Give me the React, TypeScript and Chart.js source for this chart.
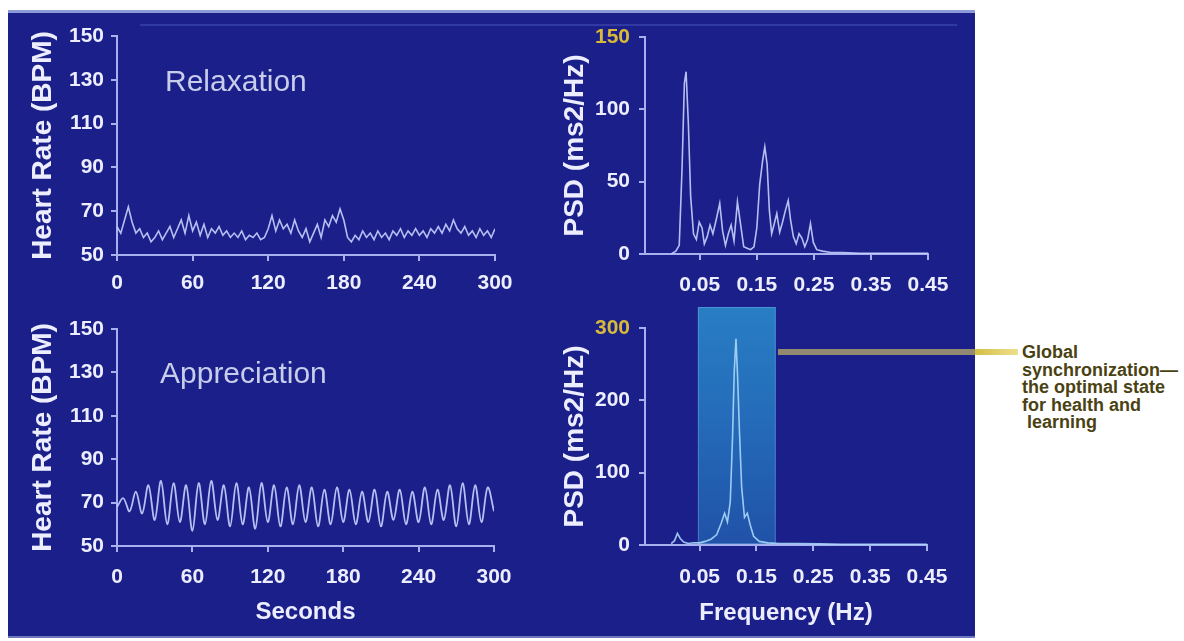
import React, { useEffect, useRef } from "react";
import { Chart, registerables } from "chart.js";

Chart.register(...registerables);

// ---------------- data ----------------
const HR_TICKS_X = [0, 60, 120, 180, 240, 300];
const HR_TICKS_Y = [50, 70, 90, 110, 130, 150];
const PSD_TICKS_X = [0.05, 0.15, 0.25, 0.35, 0.45];
const PSD_RELAX_TICKS_Y = [0, 50, 100, 150];
const PSD_APPR_TICKS_Y = [0, 100, 200, 300];

// Relaxation heart rate (BPM), one sample every 3 s, 0..300 s
const RELAX_HR_STEP_S = 3;
const RELAX_HR = [
  63, 60, 66, 72, 65, 60, 62, 58, 60, 56,
  58, 61, 57, 60, 63, 58, 62, 66, 60, 68,
  61, 65, 59, 64, 58, 62, 60, 63, 59, 61,
  58, 60, 58, 61, 57, 59, 58, 60, 57, 58,
  62, 68, 61, 66, 62, 64, 60, 66, 61, 58,
  62, 56, 60, 64, 58, 66, 63, 68, 65, 71,
  66, 58, 56, 59, 57, 61, 58, 60, 57, 61,
  58, 60, 57, 61, 59, 62, 58, 61, 59, 62,
  59, 61, 58, 62, 60, 63, 60, 64, 61, 66,
  62, 60, 63, 59, 61, 58, 62, 59, 61, 58,
  62,
];

// Appreciation heart rate (BPM), one sample every 5 s, 0..300 s
const APPR_HR_STEP_S = 5;
const APPR_HR = [
  68, 72, 66, 75, 65, 78, 62, 80, 60, 79,
  61, 78, 57, 79, 60, 80, 62, 78, 59, 79,
  60, 77, 58, 79, 61, 78, 59, 77, 60, 78,
  61, 77, 59, 76, 60, 77, 61, 76, 60, 75,
  61, 76, 59, 75, 62, 76, 60, 75, 61, 77,
  60, 76, 62, 78, 59, 79, 60, 78, 61, 77,
  66,
];

// Relaxation power spectrum
const RELAX_PSD_FREQ = [
  0, 0.008, 0.014, 0.019, 0.023, 0.026, 0.030, 0.034, 0.039, 0.044,
  0.049, 0.054, 0.058, 0.063, 0.068, 0.073, 0.079, 0.085, 0.090, 0.095,
  0.100, 0.105, 0.110, 0.116, 0.121, 0.127, 0.133, 0.139, 0.145, 0.150,
  0.155, 0.160, 0.164, 0.168, 0.172, 0.176, 0.180, 0.185, 0.190, 0.195,
  0.200, 0.205, 0.209, 0.214, 0.219, 0.224, 0.229, 0.234, 0.239, 0.244,
  0.249, 0.255, 0.265, 0.280, 0.300, 0.330, 0.360, 0.390, 0.420, 0.450,
];
const RELAX_PSD = [
  0, 2, 6, 60, 118, 126, 90, 40, 14, 10,
  22, 18, 7, 12, 20, 14, 24, 35, 16, 6,
  14, 20, 9, 36, 22, 5, 4, 3, 5, 18,
  48, 64, 74, 62, 30, 14, 20, 28, 15, 22,
  30, 37, 24, 12, 7, 14, 11, 5, 10, 21,
  8, 3, 2, 1, 1, 0.5, 0.5, 0.5, 0.5, 0.5,
];

// Appreciation power spectrum
const APPR_PSD_FREQ = [
  0, 0.006, 0.011, 0.016, 0.022, 0.030, 0.040, 0.050, 0.060, 0.070,
  0.080, 0.088, 0.094, 0.099, 0.104, 0.108, 0.111, 0.114, 0.117, 0.120,
  0.124, 0.129, 0.134, 0.139, 0.145, 0.155, 0.170, 0.190, 0.220, 0.260,
  0.300, 0.350, 0.400, 0.450,
];
const APPR_PSD = [
  2, 6, 16, 9, 4, 2, 3, 3, 5, 8,
  14, 30, 44, 32, 60, 150, 240, 285, 230, 160,
  80, 38, 44, 28, 12, 5, 3, 2, 2, 1.5,
  1, 1, 1, 1,
];

// highlighted coherence band (Hz)
const COHERENCE_BAND = [0.047, 0.184];

// ---------------- styles ----------------
const FONT = "'Liberation Sans', Arial, Helvetica, sans-serif";
const PANEL_BG = "rgb(27,31,137)";
const TICK_COLOR = "#eceeff";
const GOLD = "#d9b93a";
const AXIS_COLOR = "#a8b1f0";
const TRACE_COLOR = "rgba(200,208,255,0.9)";

type Box = { x: number; y: number; w: number; h: number };
type Area = { l: number; t: number; r: number; b: number };

type Spec = {
  box: Box;
  area: Area;
  points: { x: number; y: number }[];
  xMin: number;
  xMax: number;
  yMin: number;
  yMax: number;
  xTicks: number[];
  yTicks: number[];
  xFmt: (v: number) => string;
  xPad: number;
  yPad: number;
  xTitle?: string;
  xTitlePad?: number;
  yTitle: string;
  gold?: number;
  tension: number;
  lineColor: string;
  lineWidth: number;
  plugins?: any[];
};

function buildConfig(s: Spec): any {
  const yWidth = s.area.l - s.box.x;
  const xHeight = s.box.y + s.box.h - s.area.b;
  const tickFont = { family: FONT, size: 21, weight: "bold" as const };
  const titleFont = { family: FONT, size: 24, weight: "bold" as const };
  return {
    type: "line",
    data: {
      datasets: [
        {
          data: s.points,
          borderColor: s.lineColor,
          borderWidth: s.lineWidth,
          pointRadius: 0,
          tension: s.tension,
          fill: false,
        },
      ],
    },
    options: {
      animation: false,
      responsive: false,
      events: [],
      layout: {
        padding: {
          left: 0,
          top: s.area.t - s.box.y,
          right: s.box.x + s.box.w - s.area.r,
          bottom: 0,
        },
      },
      plugins: { legend: { display: false }, tooltip: { enabled: false } },
      scales: {
        x: {
          type: "linear",
          min: s.xMin,
          max: s.xMax,
          afterBuildTicks: (sc: any) => {
            sc.ticks = s.xTicks.map((v) => ({ value: v }));
          },
          afterFit: (sc: any) => {
            sc.height = xHeight;
          },
          grid: {
            drawOnChartArea: false,
            drawTicks: true,
            tickLength: 6,
            color: AXIS_COLOR,
            lineWidth: 2,
          },
          border: { display: true, color: AXIS_COLOR, width: 2 },
          ticks: {
            color: TICK_COLOR,
            font: tickFont,
            padding: s.xPad,
            maxRotation: 0,
            autoSkip: false,
            callback: (v: any) => s.xFmt(Number(v)),
          },
          title: s.xTitle
            ? {
                display: true,
                text: s.xTitle,
                color: TICK_COLOR,
                font: titleFont,
                padding: { top: 0, bottom: s.xTitlePad ?? 10 },
              }
            : { display: false },
        },
        y: {
          type: "linear",
          min: s.yMin,
          max: s.yMax,
          afterBuildTicks: (sc: any) => {
            sc.ticks = s.yTicks.map((v) => ({ value: v }));
          },
          afterFit: (sc: any) => {
            sc.width = yWidth;
          },
          grid: {
            drawOnChartArea: false,
            drawTicks: true,
            tickLength: 6,
            color: AXIS_COLOR,
            lineWidth: 2,
          },
          border: { display: true, color: AXIS_COLOR, width: 2 },
          ticks: {
            color: (ctx: any) =>
              ctx.tick && s.gold !== undefined && ctx.tick.value === s.gold ? GOLD : TICK_COLOR,
            font: tickFont,
            padding: s.yPad,
            autoSkip: false,
            callback: (v: any) => String(v),
          },
          title: {
            display: true,
            text: s.yTitle,
            color: TICK_COLOR,
            font: { family: FONT, size: 28, weight: "bold" as const },
            padding: { top: 18, bottom: 0 },
          },
        },
      },
    },
    plugins: s.plugins || [],
  };
}

const bandPlugin = {
  id: "coherenceBand",
  beforeDatasetsDraw(chart: any) {
    const { ctx, chartArea, scales } = chart;
    const x = scales.x;
    const x0 = x.getPixelForValue(COHERENCE_BAND[0]);
    const x1 = x.getPixelForValue(COHERENCE_BAND[1]);
    const top = chartArea.top - 21;
    const bottom = chartArea.bottom - 1;
    const g = ctx.createLinearGradient(0, top, 0, bottom);
    g.addColorStop(0, "rgb(40,126,196)");
    g.addColorStop(0.5, "rgb(36,106,184)");
    g.addColorStop(1, "rgb(32,82,168)");
    ctx.save();
    ctx.fillStyle = g;
    ctx.fillRect(x0, top, x1 - x0, bottom - top);
    ctx.strokeStyle = "rgba(130,180,235,0.4)";
    ctx.lineWidth = 1;
    ctx.strokeRect(x0 + 0.5, top + 0.5, x1 - x0 - 1, bottom - top - 1);
    ctx.restore();
  },
};

function Panel({ spec }: { spec: Spec }) {
  const ref = useRef<HTMLCanvasElement | null>(null);
  useEffect(() => {
    if (!ref.current) return;
    const chart = new Chart(ref.current, buildConfig(spec));
    return () => chart.destroy();
  }, []);
  return (
    <canvas
      ref={ref}
      width={spec.box.w}
      height={spec.box.h}
      style={{
        position: "absolute",
        left: spec.box.x,
        top: spec.box.y,
        width: spec.box.w,
        height: spec.box.h,
      }}
    />
  );
}

const hrFmt = (v: number) => String(Math.round(v));
const psdFmt = (v: number) => v.toFixed(2);

const SPECS: Spec[] = [
  {
    box: { x: 8, y: 10, w: 540, h: 300 },
    area: { l: 117, t: 36, r: 495, b: 255 },
    points: RELAX_HR.map((v, i) => ({ x: i * RELAX_HR_STEP_S, y: v })),
    xMin: 0, xMax: 300, yMin: 50, yMax: 150,
    xTicks: HR_TICKS_X, yTicks: HR_TICKS_Y,
    xFmt: hrFmt, xPad: 10, yPad: 7,
    yTitle: "Heart Rate (BPM)",
    tension: 0, lineColor: TRACE_COLOR, lineWidth: 1.6,
  },
  {
    box: { x: 540, y: 10, w: 430, h: 300 },
    area: { l: 645, t: 37, r: 928, b: 254 },
    points: RELAX_PSD.map((v, i) => ({ x: RELAX_PSD_FREQ[i], y: v })),
    xMin: -0.046, xMax: 0.45, yMin: 0, yMax: 150,
    xTicks: PSD_TICKS_X, yTicks: PSD_RELAX_TICKS_Y,
    xFmt: psdFmt, xPad: 13, yPad: 9,
    yTitle: "PSD (ms2/Hz)", gold: 150,
    tension: 0, lineColor: TRACE_COLOR, lineWidth: 1.6,
  },
  {
    box: { x: 8, y: 300, w: 540, h: 337 },
    area: { l: 117, t: 329, r: 494, b: 546 },
    points: APPR_HR.map((v, i) => ({ x: i * APPR_HR_STEP_S, y: v })),
    xMin: 0, xMax: 300, yMin: 50, yMax: 150,
    xTicks: HR_TICKS_X, yTicks: HR_TICKS_Y,
    xFmt: hrFmt, xPad: 13, yPad: 7,
    xTitle: "Seconds", xTitlePad: 10,
    yTitle: "Heart Rate (BPM)",
    tension: 0.35, lineColor: TRACE_COLOR, lineWidth: 1.8,
  },
  {
    box: { x: 540, y: 300, w: 430, h: 337 },
    area: { l: 645, t: 328, r: 927, b: 545 },
    points: APPR_PSD.map((v, i) => ({ x: APPR_PSD_FREQ[i], y: v })),
    xMin: -0.046, xMax: 0.45, yMin: 0, yMax: 300,
    xTicks: PSD_TICKS_X, yTicks: PSD_APPR_TICKS_Y,
    xFmt: psdFmt, xPad: 14, yPad: 9,
    xTitle: "Frequency (Hz)", xTitlePad: 9,
    yTitle: "PSD (ms2/Hz)", gold: 300,
    tension: 0, lineColor: "rgba(170,215,250,0.9)", lineWidth: 1.6,
    plugins: [bandPlugin],
  },
];

export default function App() {
  return (
    <div
      style={{
        position: "fixed",
        left: 0,
        top: 0,
        width: 1184,
        height: 641,
        background: "#ffffff",
        overflow: "hidden",
        fontFamily: FONT,
      }}
    >
      <div
        style={{
          position: "absolute",
          left: 8,
          top: 10,
          width: 967,
          height: 628,
          background: PANEL_BG,
          borderTop: "3px solid rgb(140,155,215)",
          borderBottom: "2px solid rgb(110,120,190)",
          boxSizing: "border-box",
        }}
      />
      <div
        style={{
          position: "absolute",
          left: 140,
          top: 24,
          width: 817,
          height: 2,
          background: "rgba(55,65,170,0.8)",
        }}
      />
      {SPECS.map((s, i) => (
        <Panel key={i} spec={s} />
      ))}
      <div
        style={{
          position: "absolute",
          left: 165,
          top: 66,
          fontSize: 30,
          lineHeight: "30px",
          color: "rgb(200,205,236)",
          whiteSpace: "nowrap",
        }}
      >
        Relaxation
      </div>
      <div
        style={{
          position: "absolute",
          left: 160,
          top: 358,
          fontSize: 30,
          lineHeight: "30px",
          color: "rgb(200,205,236)",
          whiteSpace: "nowrap",
        }}
      >
        Appreciation
      </div>
      <div
        style={{
          position: "absolute",
          left: 778,
          top: 349,
          width: 197,
          height: 6,
          background: "rgb(145,138,112)",
        }}
      />
      <div
        style={{
          position: "absolute",
          left: 975,
          top: 349,
          width: 43,
          height: 6,
          background: "linear-gradient(to right, #d6bf45, #ece08e)",
        }}
      />
      <div
        style={{
          position: "absolute",
          left: 1022,
          top: 344,
          fontSize: 18,
          fontWeight: "bold",
          lineHeight: "17.5px",
          color: "#4a4212",
          whiteSpace: "pre",
        }}
      >
        {"Global\nsynchronization—\nthe optimal state\nfor health and\n learning"}
      </div>
    </div>
  );
}
